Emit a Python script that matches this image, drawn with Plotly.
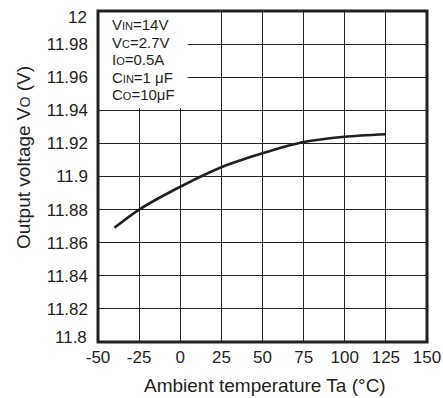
import plotly.graph_objects as go

temps = [-40, -25, 0, 25, 50, 75, 100, 125]
vout = [11.869, 11.880, 11.8938, 11.9056, 11.914, 11.9208, 11.924, 11.9255]

x_ticks = [-50, -25, 0, 25, 50, 75, 100, 125, 150]
x_tick_text = ["-50", "-25", "0", "25", "50", "75", "100", "125", "150"]
y_ticks = [11.8, 11.82, 11.84, 11.86, 11.88, 11.9, 11.92, 11.94, 11.96, 11.98, 12.0]
y_tick_text = ["11.8", "11.82", "11.84", "11.86", "11.88", "11.9", "11.92", "11.94", "11.96", "11.98", "12"]

cond_lines = [("V", "IN", "=14V"), ("V", "C", "=2.7V"), ("I", "O", "=0.5A"),
              ("C", "IN", "=1 \u03bcF"), ("C", "O", "=10\u03bcF")]

FONT = "Liberation Sans, Arial, sans-serif"
INK = "#231f20"

fig = go.Figure()
fig.add_trace(go.Scatter(x=temps, y=vout, mode="lines", line=dict(color=INK, width=2.6, shape="spline", smoothing=0.8),
                         showlegend=False, hoverinfo="skip"))

# end labels are nudged inward in the reference, so draw them separately
shown_text = [t if i not in (0, len(y_tick_text) - 1) else "" for i, t in enumerate(y_tick_text)]

fig.update_layout(
    width=443, height=398,
    margin=dict(l=98, r=16, t=11, b=56, autoexpand=False),
    paper_bgcolor="white", plot_bgcolor="white",
    font=dict(family=FONT, color=INK, size=17),
    xaxis=dict(range=[-50, 150], tickvals=x_ticks, ticktext=x_tick_text, showgrid=True, gridcolor="#222", gridwidth=1,
               zeroline=False, showline=False, ticks="", tickfont=dict(size=17), automargin=False,
               ticklabelstandoff=3),
    yaxis=dict(range=[11.8, 12.0], tickvals=y_ticks, ticktext=shown_text, showgrid=True,
               gridcolor="#222", gridwidth=1, zeroline=False, showline=False, ticks="",
               tickfont=dict(size=17), automargin=False, ticklabelstandoff=9),
)

for val, txt, dy in [(y_ticks[0], y_tick_text[0], 5), (y_ticks[-1], y_tick_text[-1], -6)]:
    fig.add_annotation(xref="paper", yref="y", x=-9 / 329, y=val, yshift=dy,
                       xanchor="right", yanchor="middle", showarrow=False, text=txt,
                       font=dict(size=17, family=FONT, color=INK))

# white legend box covering grid
fig.add_shape(type="rect", xref="x", yref="y", x0=-50, x1=4.5, y0=11.9412, y1=12.0,
              fillcolor="white", line=dict(width=0), layer="above")
# frame
fig.add_shape(type="rect", xref="paper", yref="paper", x0=0, x1=1, y0=0, y1=1,
              line=dict(color=INK, width=3), layer="above")

line_y = [24.5, 42.5, 60, 77, 94]
for (main, sub, rest), ypx in zip(cond_lines, line_y):
    fig.add_annotation(xref="paper", yref="paper", x=(110 - 98) / 329, y=(342 - ypx) / 331,
                       xanchor="left", yanchor="middle", align="left", showarrow=False,
                       text=main + "<span style='font-size:11px'>" + sub + "</span>" + rest,
                       font=dict(size=15, family=FONT, color=INK))

fig.add_annotation(xref="paper", yref="paper", x=(265 - 98) / 329, y=(342 - 385) / 331,
                   xanchor="center", yanchor="middle", showarrow=False,
                   text="Ambient temperature Ta (°C)", font=dict(size=19, family=FONT, color=INK))
fig.add_annotation(xref="paper", yref="paper", x=(23 - 98) / 329, y=(342 - 158) / 331,
                   xanchor="center", yanchor="middle", showarrow=False, textangle=-90,
                   text="Output voltage V<span style='font-size:14px'>O</span> (V)",
                   font=dict(size=19, family=FONT, color=INK))

fig.write_html("out.html", config={"displayModeBar": False},
               post_script="document.body.style.margin='0';")
